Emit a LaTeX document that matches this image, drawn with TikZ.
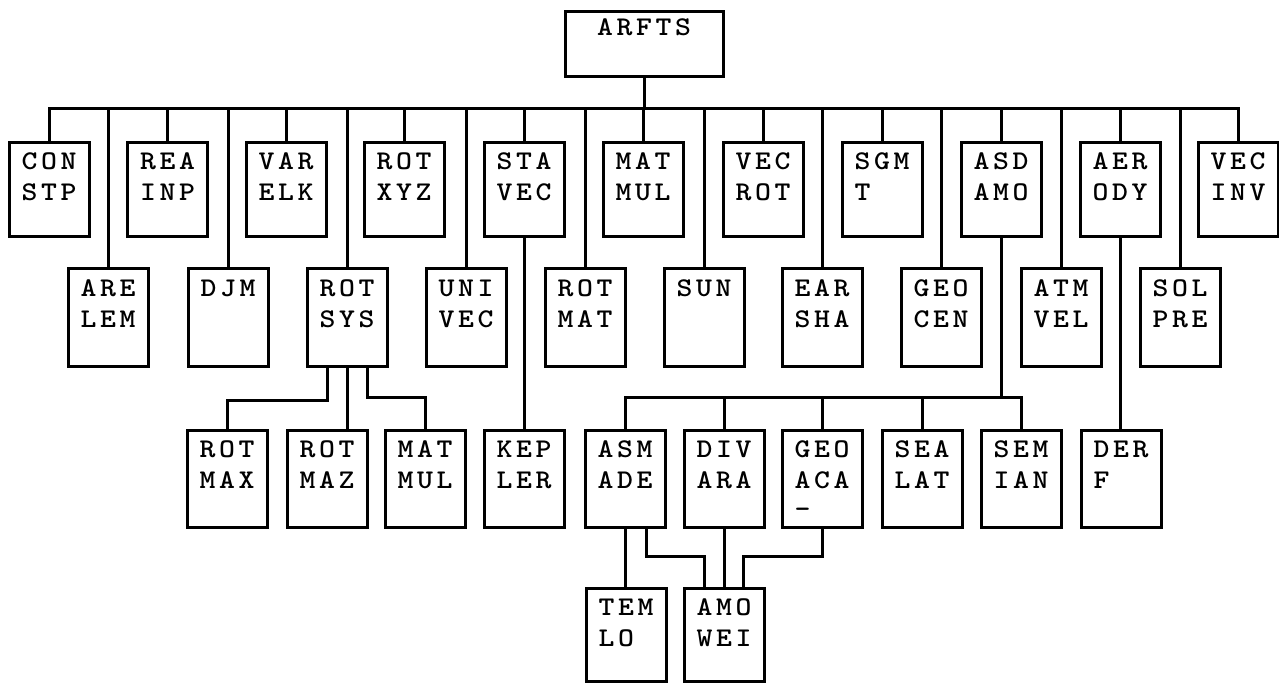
\documentclass[tikz,border=0pt]{standalone}
\usepackage{fontspec}
\newfontfamily\boxfont{lmmonolt10-bold.otf}[FakeStretch=1.12]
\newcommand\chadv{19.5pt}
\makeatletter
\newcommand\spc[1]{\spc@#1\relax}
\def\spc@#1{\ifx\relax#1\else\makebox[\chadv]{#1}\expandafter\spc@\fi}
\makeatother
\newcommand\field[1]{\hbox to 58.5pt{\spc{#1}\hss}}
\newcommand\bx[4]{\vbox to #1pt{\offinterlineskip\hrule height0pt width80pt
  \vskip27pt\hbox to80pt{\hss\smash{\field{#2}}\hss}%
  \vskip31pt\hbox to80pt{\hss\smash{\field{#3}}\hss}%
  \vskip29pt\hbox to80pt{\hss\smash{\field{#4}}\hss}\vss}}
\tikzset{
  box/.style={draw, line width=3pt, inner sep=0pt, outer sep=0pt, anchor=north,
    font=\boxfont\fontsize{27pt}{30pt}\selectfont},
  wire/.style={line width=3pt}
}
\begin{document}
\begin{tikzpicture}[x=1pt,y=-1pt]
\useasboundingbox[fill=white] (0,0) rectangle (1279,684);
% top
\node[box] (arfts) at (644,12) {\vbox to 65pt{\offinterlineskip\hrule height0pt width158pt\vskip24pt\hbox to158pt{\hss\smash{\spc{ARFTS}}\hss}\vss}};
% row 1
\node[box] (con)    at (49,143)   {\bx{94}{CON}{STP}{}};
\node[box] (reainp) at (167.5,143){\bx{94}{REA}{INP}{}};
\node[box] (varelk) at (286,143)  {\bx{94}{VAR}{ELK}{}};
\node[box] (rotxyz) at (404,143)  {\bx{94}{ROT}{XYZ}{}};
\node[box] (stavec) at (524,143)  {\bx{94}{STA}{VEC}{}};
\node[box] (matmul) at (643,143)  {\bx{94}{MAT}{MUL}{}};
\node[box] (vecrot) at (763,143)  {\bx{94}{VEC}{ROT}{}};
\node[box] (sgmt)   at (882,143)  {\bx{94}{SGM}{T}{}};
\node[box] (asdamo) at (1001,143) {\bx{94}{ASD}{AMO}{}};
\node[box] (aerody) at (1120,143) {\bx{94}{AER}{ODY}{}};
\node[box] (vecinv) at (1238,143) {\bx{94}{VEC}{INV}{}};
% row 2
\node[box] (arelem) at (108,269)  {\bx{97}{ARE}{LEM}{}};
\node[box] (djm)    at (228,269)  {\bx{97}{DJM}{}{}};
\node[box] (rotsys) at (347,269)  {\bx{97}{ROT}{SYS}{}};
\node[box] (univec) at (466,269)  {\bx{97}{UNI}{VEC}{}};
\node[box] (rotmat) at (585,269)  {\bx{97}{ROT}{MAT}{}};
\node[box] (sun)    at (704,269)  {\bx{97}{SUN}{}{}};
\node[box] (earsha) at (822,269)  {\bx{97}{EAR}{SHA}{}};
\node[box] (geocen) at (941,269)  {\bx{97}{GEO}{CEN}{}};
\node[box] (atmvel) at (1061,269) {\bx{97}{ATM}{VEL}{}};
\node[box] (solpre) at (1180,269) {\bx{97}{SOL}{PRE}{}};
% row 3
\node[box] (rotmax) at (227,430)  {\bx{97}{ROT}{MAX}{}};
\node[box] (rotmaz) at (327,430)  {\bx{97}{ROT}{MAZ}{}};
\node[box] (matmulb) at (425,430) {\bx{97}{MAT}{MUL}{}};
\node[box] (kepler) at (524,430)  {\bx{97}{KEP}{LER}{}};
\node[box] (asmade) at (625,430)  {\bx{97}{ASM}{ADE}{}};
\node[box] (divara) at (724,430)  {\bx{97}{DIV}{ARA}{}};
\node[box] (geoaca) at (822,430)  {\bx{97}{GEO}{ACA}{-}};
\node[box] (sealat) at (922,430)  {\bx{97}{SEA}{LAT}{}};
\node[box] (semian) at (1021,430) {\bx{97}{SEM}{IAN}{}};
\node[box] (derf)   at (1121,430) {\bx{97}{DER}{F}{}};
% row 4
\node[box] (temlo)  at (626,588)  {\bx{93}{TEM}{LO}{}};
\node[box] (amowei) at (724,588)  {\bx{93}{AMO}{WEI}{}};
% junction levels
\coordinate (bus)  at (0,109);
\coordinate (bus2) at (0,397);
\coordinate (jl)   at (0,400);
\coordinate (jr)   at (0,397);
\coordinate (jb)   at (0,556);
% main bus
\draw[wire] (arfts.south) -- (arfts.south |- bus);
\draw[wire] (con.north) |- (bus -| vecinv.north) -- (vecinv.north);
\foreach \n in {reainp,varelk,rotxyz,stavec,matmul,vecrot,sgmt,asdamo,aerody,
  arelem,djm,rotsys,univec,rotmat,sun,earsha,geocen,atmvel,solpre}
  \draw[wire] (\n.north) -- (\n.north |- bus);
% ROT SYS children
\draw[wire] ([xshift=-20pt]rotsys.south) |- (jl -| rotmax.north) -- (rotmax.north);
\draw[wire] (rotsys.south) -- (rotsys.south |- rotmaz.north);
\draw[wire] ([xshift=20pt]rotsys.south) |- (jr -| matmulb.north) -- (matmulb.north);
% STA VEC -> KEPLER
\draw[wire] (stavec.south) -- (kepler.north);
% ASD AMO children
\draw[wire] (asdamo.south) -- (asdamo.south |- bus2);
\draw[wire] (asmade.north) |- (bus2 -| semian.north) -- (semian.north);
\foreach \n in {divara,geoaca,sealat}
  \draw[wire] (\n.north) -- (\n.north |- bus2);
% AER ODY -> DER F
\draw[wire] (aerody.south) -- (aerody.south |- derf.north);
% bottom
\draw[wire] (asmade.south) -- (asmade.south |- temlo.north);
\draw[wire] ([xshift=21pt]asmade.south) |- ([xshift=-20pt]amowei.north |- jb) -- ([xshift=-20pt]amowei.north);
\draw[wire] (divara.south) -- (divara.south |- amowei.north);
\draw[wire] (geoaca.south) |- ([xshift=19pt]amowei.north |- jb) -- ([xshift=19pt]amowei.north);
\end{tikzpicture}
\end{document}
